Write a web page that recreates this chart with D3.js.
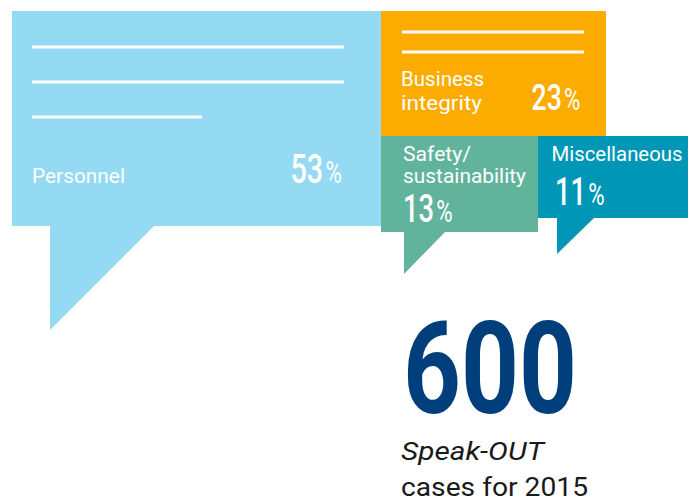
<!DOCTYPE html>
<html>
<head>
<meta charset="utf-8">
<script src="https://cdn.jsdelivr.net/npm/d3@7"></script>
<style>
  html, body { margin: 0; padding: 0; background: #ffffff; }
  svg { display: block; }
  text { font-family: Roboto, "Noto Sans", "DejaVu Sans", sans-serif; }
</style>
</head>
<body>
<svg id="chart" width="696" height="503"></svg>
<script>
// Speak-OUT cases by topic, 2015
const categories = ["Personnel", "Business integrity", "Safety/sustainability", "Miscellaneous"];
const labelLines = [["Personnel"], ["Business", "integrity"], ["Safety/", "sustainability"], ["Miscellaneous"]];
const shares = [53, 23, 13, 11];
const totalCases = 600;
const captionLines = ["Speak-OUT", "cases for 2015"];

// Bubble geometry and styling
const colors = ["#93daf2", "#fcab00", "#62b39b", "#0097b6"];
const boxes = [
  { x: 12,  y: 11,  w: 369, h: 215, tail: [[50, 226], [154, 226], [50, 330]] },
  { x: 381, y: 11,  w: 225, h: 125, tail: null },
  { x: 381, y: 136, w: 157, h: 96,  tail: [[404, 232], [445, 232], [404, 274]] },
  { x: 538, y: 136, w: 150, h: 82,  tail: [[557, 218], [594, 218], [557, 254]] }
];
// decorative "text lines" inside bubbles: [x1, x2, y]
const rules = [
  [[32, 344, 47], [32, 344, 82], [32, 202, 117]],
  [[402, 584, 32], [402, 584, 52]],
  [],
  []
];
// label lines: x, baselines, widths
const labelPos = [
  { x: 32,  ys: [183],      ws: [93] },
  { x: 401, ys: [86, 110],  ws: [83, 81] },
  { x: 403, ys: [161, 183], ws: [68, 123] },
  { x: 551.5, ys: [161],    ws: [131] }
];
// value numbers: x, baseline, font size (glyphs condensed horizontally)
const valuePos = [
  { x: 290.5, y: 183,   fs: 40 },
  { x: 531.5, y: 109.5, fs: 37 },
  { x: 403,   y: 222,   fs: 38 },
  { x: 555,   y: 205,   fs: 38 }
];
const condense = 0.72;

const svg = d3.select("#chart");
const fmt = d3.format("d");
const line = d3.line();

const groups = svg.selectAll("g.bubble")
  .data(categories.map((c, i) => ({ name: c, share: shares[i], i })))
  .join("g")
  .attr("class", "bubble");

groups.append("rect")
  .attr("x", d => boxes[d.i].x)
  .attr("y", d => boxes[d.i].y)
  .attr("width", d => boxes[d.i].w)
  .attr("height", d => boxes[d.i].h)
  .attr("fill", d => colors[d.i]);

groups.filter(d => boxes[d.i].tail)
  .append("path")
  .attr("d", d => line(boxes[d.i].tail) + "Z")
  .attr("fill", d => colors[d.i]);

groups.selectAll("line.rule")
  .data(d => rules[d.i])
  .join("line")
  .attr("class", "rule")
  .attr("x1", r => r[0]).attr("x2", r => r[1])
  .attr("y1", r => r[2]).attr("y2", r => r[2])
  .attr("stroke", "#ffffff")
  .attr("stroke-width", 3);

groups.each(function (d) {
  const g = d3.select(this);
  const lp = labelPos[d.i];
  labelLines[d.i].forEach((t, k) => {
    g.append("text")
      .attr("x", lp.x)
      .attr("y", lp.ys[k])
      .attr("fill", "#ffffff")
      .attr("font-size", 21)
      .attr("font-weight", 400)
      .attr("textLength", lp.ws[k])
      .attr("lengthAdjust", "spacingAndGlyphs")
      .text(t);
  });
  const vp = valuePos[d.i];
  const v = g.append("text")
    .attr("transform", `translate(${vp.x},${vp.y}) scale(${condense},1)`)
    .attr("fill", "#ffffff");
  v.append("tspan")
    .attr("font-size", vp.fs)
    .attr("font-weight", 500)
    .text(fmt(d.share));
  v.append("tspan")
    .attr("dx", 3)
    .attr("font-size", 31)
    .attr("font-weight", 400)
    .text("%");
});

// headline total
svg.append("text")
  .attr("x", 403)
  .attr("y", 413)
  .attr("fill", "#003f7b")
  .attr("font-size", 128)
  .attr("font-weight", 700)
  .attr("textLength", 174)
  .attr("lengthAdjust", "spacingAndGlyphs")
  .text(fmt(totalCases));

svg.append("text")
  .attr("x", 401)
  .attr("y", 460)
  .attr("fill", "#1a1a1a")
  .attr("font-size", 26)
  .attr("font-style", "italic")
  .attr("textLength", 143)
  .attr("lengthAdjust", "spacingAndGlyphs")
  .text(captionLines[0]);

svg.append("text")
  .attr("x", 401)
  .attr("y", 496)
  .attr("fill", "#1a1a1a")
  .attr("font-size", 26)
  .attr("textLength", 187)
  .attr("lengthAdjust", "spacingAndGlyphs")
  .text(captionLines[1]);
</script>
</body>
</html>
